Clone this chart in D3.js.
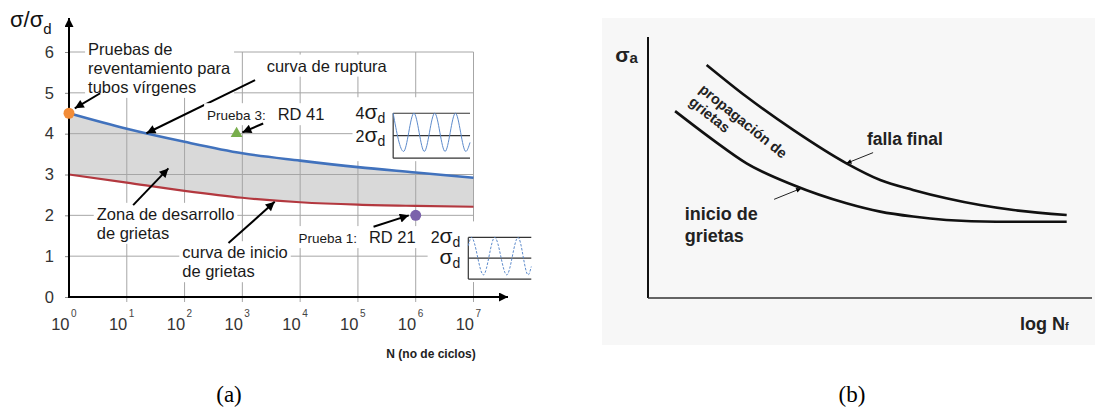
<!DOCTYPE html>
<html>
<head>
<meta charset="utf-8">
<script src="https://cdn.jsdelivr.net/npm/d3@7"></script>
<style>
  body { margin: 0; background: #fff; }
  svg { display: block; font-family: "Liberation Sans", Arial, sans-serif; }
</style>
</head>
<body>
<div id="chart"></div>
<script>
// ---- (a) data: stress ratio vs log10(N) ----
const decades = [0, 1, 2, 3, 4, 5, 6, 7];
const yTicks = [0, 1, 2, 3, 4, 5, 6];
const rupturaVals = [4.5, 4.12, 3.8, 3.52, 3.34, 3.18, 3.05, 2.92];
const inicioVals = [3.0, 2.8, 2.6, 2.43, 2.32, 2.26, 2.23, 2.21];
const pruebaIds = ["virgen", "p3", "p1"];
const pruebaLogN = [0, 2.9, 6.0];
const pruebaS = [4.5, 4.0, 2.0];

// inset wave shapes (fraction of width, level in sigma_d)
const waveA = [[0, 4], [0.135, 0.6], [0.27, 4], [0.405, 0.6], [0.54, 4], [0.675, 0.6], [0.81, 4], [0.945, 0.6], [1, 1.4]];
const waveB = [[0, 1.6], [0.05, 2], [0.24, 0.2], [0.42, 2], [0.61, 0.2], [0.79, 2], [0.95, 0.2], [1, 0.6]];

// ---- (b) data: schematic sigma_a vs log Nf (0-100 units) ----
const fallaX = [13.2, 22.2, 32.7, 44.7, 52.3, 59.7, 67.2, 74.8, 82.3, 94.3];
const fallaY = [89.3, 77.1, 64.4, 51.6, 45.2, 41.4, 38.2, 35.6, 33.7, 31.8];
const inicioX = [6.1, 14.7, 22.2, 32.7, 44.7, 52.3, 59.7, 67.2, 78.4, 94.3];
const inicioY = [71.6, 60.5, 51.6, 43.3, 36.3, 33.1, 31.2, 29.9, 29.2, 29.2];

const W = 1097, H = 410;
const svg = d3.select("#chart").append("svg").attr("width", W).attr("height", H);
svg.append("rect").attr("width", W).attr("height", H).attr("fill", "#fff");

const defs = svg.append("defs");
function marker(id, w, h) {
  defs.append("marker").attr("id", id)
    .attr("viewBox", "0 0 10 10").attr("refX", 10).attr("refY", 5)
    .attr("markerWidth", w).attr("markerHeight", h)
    .attr("markerUnits", "userSpaceOnUse").attr("orient", "auto")
    .append("path").attr("d", "M0,0L10,5L0,10Z").attr("fill", "#000");
}
marker("headA", 12, 9);
marker("headAxis", 15, 9);
marker("headB", 8, 5);

// ================= panel (a) =================
const left = svg.append("g");
const x = d3.scaleLog().domain([1, 1e7]).range([69, 473.5]);
const y = d3.scaleLinear().domain([0, 6]).range([297, 52]);
const px = d => x(Math.pow(10, d));

const band = decades.map((d, i) => ({ d, hi: rupturaVals[i], lo: inicioVals[i] }));
left.append("path").datum(band)
  .attr("d", d3.area().x(b => px(b.d)).y0(b => y(b.lo)).y1(b => y(b.hi)).curve(d3.curveMonotoneX))
  .attr("fill", "#d9d9d9");

// grid
left.append("g").selectAll("line").data(yTicks.slice(1)).join("line")
  .attr("x1", x.range()[0]).attr("x2", x.range()[1])
  .attr("y1", d => y(d)).attr("y2", d => y(d))
  .attr("stroke", "#a6a6a6").attr("stroke-width", 1);
left.append("g").selectAll("line").data(decades.slice(1)).join("line")
  .attr("x1", d => px(d)).attr("x2", d => px(d))
  .attr("y1", y(0) + 5).attr("y2", y(6))
  .attr("stroke", "#a6a6a6").attr("stroke-width", 1);

// curves
const curveLine = vals => d3.line().x((v, i) => px(decades[i])).y(v => y(v)).curve(d3.curveMonotoneX)(vals);
left.append("path").attr("d", curveLine(inicioVals)).attr("fill", "none")
  .attr("stroke", "#b3383f").attr("stroke-width", 2.2);
left.append("path").attr("d", curveLine(rupturaVals)).attr("fill", "none")
  .attr("stroke", "#4172bd").attr("stroke-width", 2.6);

// y axis ticks + labels
const yAxis = left.append("g").attr("transform", `translate(${x.range()[0]},0)`)
  .call(d3.axisLeft(y).tickValues(yTicks).tickSize(4).tickPadding(11).tickFormat(d3.format("d")));
yAxis.select(".domain").remove();
yAxis.selectAll(".tick line").attr("stroke", "#8c8c8c");
yAxis.selectAll(".tick text").attr("font-size", 16.5).attr("fill", "#333")
  .attr("font-family", "Liberation Sans, Arial, sans-serif");

// x tick labels 10^k
const xLab = left.append("g");
xLab.selectAll("text.base").data(decades).join("text").attr("class", "base")
  .attr("x", d => px(d) + 0.5).attr("y", y(0) + 33).attr("text-anchor", "end")
  .attr("font-size", 16.5).attr("fill", "#333").text("10");
xLab.selectAll("text.exp").data(decades).join("text").attr("class", "exp")
  .attr("x", d => px(d) + 2).attr("y", y(0) + 20)
  .attr("font-size", 10).attr("fill", "#444").text(d => d);

// axes with arrows
left.append("line").attr("x1", x.range()[0]).attr("x2", x.range()[0])
  .attr("y1", y(0) + 1).attr("y2", 18)
  .attr("stroke", "#000").attr("stroke-width", 2).attr("marker-end", "url(#headAxis)");
left.append("line").attr("x1", x.range()[0] - 1).attr("x2", 508)
  .attr("y1", y(0)).attr("y2", y(0))
  .attr("stroke", "#000").attr("stroke-width", 2).attr("marker-end", "url(#headAxis)");

// axis titles
const yTitle = left.append("text").attr("x", 10).attr("y", 27).attr("font-size", 22).attr("fill", "#111");
yTitle.append("tspan").text("σ/σ");
yTitle.append("tspan").attr("font-size", 15).attr("dy", 7).text("d");
left.append("text").attr("x", 431).attr("y", 358).attr("text-anchor", "middle")
  .attr("font-size", 12).attr("font-weight", "bold").attr("fill", "#222").text("N (no de ciclos)");

// test points
const pColor = { virgen: "#f28c38", p3: "#78ae4c", p1: "#7b62ab" };
pruebaIds.forEach((id, i) => {
  const cx = px(pruebaLogN[i]), cy = y(pruebaS[i]);
  if (id === "p3") {
    left.append("path").attr("transform", `translate(${cx},${cy})`)
      .attr("d", d3.symbol(d3.symbolTriangle, 60)()).attr("fill", pColor[id]);
  } else {
    left.append("circle").attr("cx", cx).attr("cy", cy).attr("r", 5.5).attr("fill", pColor[id]);
  }
});

// labels with white boxes
function boxedText(g, xPos, yPos, lines, size, lh) {
  const grp = g.append("g");
  const bg = grp.append("rect").attr("fill", "#fff");
  const t = grp.append("text").attr("x", xPos).attr("y", yPos)
    .attr("font-size", size).attr("fill", "#1a1a1a");
  t.selectAll("tspan").data(lines).join("tspan")
    .attr("x", xPos).attr("dy", (d, i) => i ? lh : 0).text(d => d);
  const b = t.node().getBBox();
  bg.attr("x", b.x - 3).attr("y", b.y - 2).attr("width", b.width + 6).attr("height", b.height + 4);
  return t;
}
function arrow(g, from, to, id, w) {
  g.append("line")
    .attr("x1", px(from[0])).attr("y1", y(from[1]))
    .attr("x2", px(to[0])).attr("y2", y(to[1]))
    .attr("stroke", "#000").attr("stroke-width", w).attr("marker-end", `url(#${id})`);
}

const notesA = [
  { lines: ["Pruebas de", "reventamiento para", "tubos vírgenes"], at: [0.33, 5.93], from: [0.54, 4.99], to: [0.10, 4.62] },
  { lines: ["curva de ruptura"], at: [3.42, 5.52], from: [3.22, 5.31], to: [1.34, 4.01] },
  { lines: ["Zona de desarrollo", "de grietas"], at: [0.48, 1.89], from: [1.11, 2.25], to: [1.72, 3.15] },
  { lines: ["curva de inicio", "de grietas"], at: [1.96, 0.95], from: [2.76, 1.32], to: [3.56, 2.33] }
];
notesA.forEach(n => {
  boxedText(left, px(n.at[0]), y(n.at[1]), n.lines, 16.5, 19);
  arrow(left, n.from, n.to, "headA", 2);
});

const pruebaNotes = [
  { small: "Prueba 3:", big: "RD 41", at: [2.39, 4.33], from: [3.36, 4.25], to: [3.0, 4.03] },
  { small: "Prueba 1:", big: "RD 21", at: [3.97, 1.32], from: [5.27, 1.72], to: [5.88, 2.0] }
];
pruebaNotes.forEach(n => {
  const grp = left.append("g");
  const bg = grp.append("rect").attr("fill", "#fff");
  const t = grp.append("text").attr("x", px(n.at[0])).attr("y", y(n.at[1])).attr("fill", "#1a1a1a");
  t.append("tspan").attr("font-size", 13.5).text(n.small);
  t.append("tspan").attr("font-size", 16.5).attr("dx", 12).text(n.big);
  const b = t.node().getBBox();
  bg.attr("x", b.x - 3).attr("y", b.y - 2).attr("width", b.width + 6).attr("height", b.height + 4);
  arrow(left, n.from, n.to, "headA", 2);
});

// load-cycle insets
function inset(g, spanN, spanS, levels, tags, wave, dashed) {
  const grp = g.append("g");
  const bg = grp.append("rect").attr("fill", "#fff");
  const inner = grp.append("g");
  const top = d3.max(levels);
  const ix = d3.scaleLinear().domain([0, 1]).range([px(spanN[0]), px(spanN[1])]);
  const iy = d3.scaleLinear().domain([0, top]).range([y(spanS[0]), y(spanS[1])]);
  inner.selectAll("line.lvl").data(levels).join("line").attr("class", "lvl")
    .attr("x1", ix(0)).attr("x2", ix(1)).attr("y1", d => iy(d)).attr("y2", d => iy(d))
    .attr("stroke", "#333").attr("stroke-width", 1.2);
  inner.append("line").attr("x1", ix(0)).attr("x2", ix(0)).attr("y1", iy(0)).attr("y2", iy(top))
    .attr("stroke", "#333").attr("stroke-width", 1.2);
  inner.append("path").datum(wave)
    .attr("d", d3.line().x(w => ix(w[0])).y(w => iy(w[1])).curve(d3.curveMonotoneX))
    .attr("fill", "none").attr("stroke", "#5d8bcc").attr("stroke-width", 1)
    .attr("stroke-dasharray", dashed ? "2.5,1.5" : null);
  tags.forEach(tg => {
    const t = inner.append("text").attr("x", ix(0) - 8).attr("y", iy(tg) + 6)
      .attr("text-anchor", "end").attr("fill", "#1a1a1a");
    if (tg !== 1) t.append("tspan").attr("font-size", 16).text(tg);
    t.append("tspan").attr("font-size", 21).text("σ");
    t.append("tspan").attr("font-size", 14).attr("dy", 4).text("d");
  });
  const b = inner.node().getBBox();
  bg.attr("x", b.x - 3).attr("y", b.y - 3).attr("width", b.width + 6).attr("height", b.height + 6);
}
inset(left, [5.61, 6.94], [3.40, 4.5], [4, 2, 0], [4, 2], waveA, false);
inset(left, [6.91, 8.0], [0.44, 1.46], [2, 1, 0], [2, 1], waveB, true);

// ================= panel (b) =================
const right = svg.append("g");
right.append("rect").attr("x", 602).attr("y", 18).attr("width", 493).attr("height", 327).attr("fill", "#f7f7f7");
const rx = d3.scaleLinear().domain([0, 100]).range([648, 1092]);
const ry = d3.scaleLinear().domain([0, 100]).range([298, 37]);

right.append("line").attr("x1", rx(0)).attr("x2", rx(0)).attr("y1", ry(0)).attr("y2", ry(100))
  .attr("stroke", "#111").attr("stroke-width", 2);
right.append("line").attr("x1", rx(0)).attr("x2", rx(100)).attr("y1", ry(0)).attr("y2", ry(0))
  .attr("stroke", "#333").attr("stroke-width", 1.3);

const rLine = (xs, ys) => d3.line().x((v, i) => rx(v)).y((v, i) => ry(ys[i])).curve(d3.curveMonotoneX)(xs);
right.append("path").attr("d", rLine(fallaX, fallaY)).attr("fill", "none")
  .attr("stroke", "#111").attr("stroke-width", 2.6);
right.append("path").attr("d", rLine(inicioX, inicioY)).attr("fill", "none")
  .attr("stroke", "#111").attr("stroke-width", 2.6);

const sA = right.append("text").attr("x", rx(-7.4)).attr("y", ry(90.4)).attr("fill", "#222").attr("font-weight", "bold");
sA.append("tspan").attr("font-size", 21).text("σ");
sA.append("tspan").attr("font-size", 15).attr("dy", 1).text("a");

const lN = right.append("text").attr("x", rx(83.8)).attr("y", ry(-12.3)).attr("fill", "#222").attr("font-weight", "bold");
lN.append("tspan").attr("font-size", 18).text("log N");
lN.append("tspan").attr("font-size", 11).text("f");

right.append("text").attr("x", rx(49.3)).attr("y", ry(58.6)).attr("font-size", 17.5)
  .attr("font-weight", "bold").attr("fill", "#222").text("falla final");
const ini = right.append("text").attr("x", rx(8.3)).attr("y", ry(29.9)).attr("font-size", 18)
  .attr("font-weight", "bold").attr("fill", "#222");
ini.append("tspan").attr("x", rx(8.3)).text("inicio de");
ini.append("tspan").attr("x", rx(8.3)).attr("dy", 22).text("grietas");

const propLines = [["propagación de", [11.3, 79.3]], ["grietas", [9.0, 74.5]]];
propLines.forEach(([txt, p]) => {
  right.append("text").attr("transform", `translate(${rx(p[0])},${ry(p[1])}) rotate(39)`)
    .attr("font-size", 14.5).attr("font-weight", "bold").attr("fill", "#222").text(txt);
});

const notesB = [{ from: [50.7, 55.7], to: [44.7, 51.6] }, { from: [28.4, 37.8], to: [34.5, 42.0] }];
notesB.forEach(n => {
  right.append("line").attr("x1", rx(n.from[0])).attr("y1", ry(n.from[1]))
    .attr("x2", rx(n.to[0])).attr("y2", ry(n.to[1]))
    .attr("stroke", "#222").attr("stroke-width", 1).attr("marker-end", "url(#headB)");
});

// captions
svg.append("text").attr("x", 229).attr("y", 402).attr("text-anchor", "middle")
  .attr("font-family", "Liberation Serif, Times New Roman, serif").attr("font-size", 23).text("(a)");
svg.append("text").attr("x", 852).attr("y", 402).attr("text-anchor", "middle")
  .attr("font-family", "Liberation Serif, Times New Roman, serif").attr("font-size", 23).text("(b)");
</script>
</body>
</html>
